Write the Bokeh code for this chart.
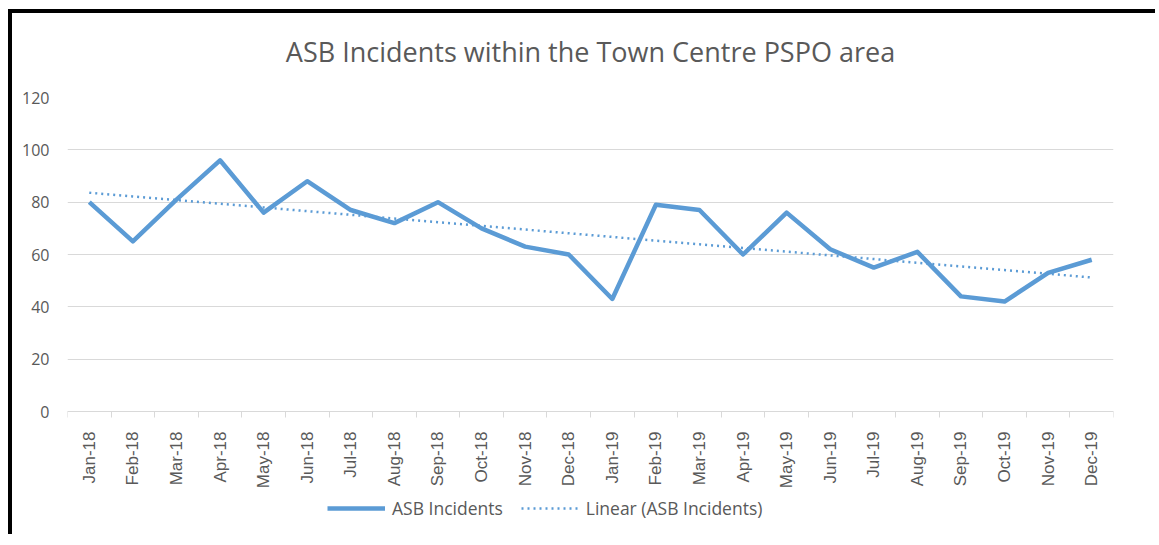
import numpy as np
from math import pi
from bokeh.plotting import figure
from bokeh.models import FixedTicker, Legend, LegendItem, Range1d, CustomJSTickFormatter, Title
from bokeh.embed import file_html
from bokeh.resources import INLINE

months = ["Jan-18", "Feb-18", "Mar-18", "Apr-18", "May-18", "Jun-18", "Jul-18", "Aug-18",
          "Sep-18", "Oct-18", "Nov-18", "Dec-18", "Jan-19", "Feb-19", "Mar-19", "Apr-19",
          "May-19", "Jun-19", "Jul-19", "Aug-19", "Sep-19", "Oct-19", "Nov-19", "Dec-19"]
incidents = [80, 65, 81, 96, 76, 88, 77, 72, 80, 70, 63, 60,
             43, 79, 77, 60, 76, 62, 55, 61, 44, 42, 53, 58]
y_ticks = [0, 20, 40, 60, 80, 100, 120]
title_text = "ASB Incidents within the Town Centre PSPO area"

x_pos = [i + 0.5 for i in range(len(months))]
slope, intercept = np.polyfit(x_pos, incidents, 1)
trend = [slope * x + intercept for x in x_pos]

BLUE = "#5B9BD5"
GREY = "#595959"
GRID = "#D9D9D9"

# layout: plotting area 0..120 spans 314 px; the frame extends below the
# axis to hold the axis labels and the legend (axis drawn at y = 0)
W, H = 1147, 525
TOP, LEFT, RIGHT = 84, 55, 46
frame_h = H - TOP
y_max = y_ticks[-1]
y_min = y_max - y_max * frame_h / 314.0

p = figure(width=W, height=H,
           x_range=Range1d(0, len(months)), y_range=Range1d(y_min, y_max),
           output_backend="svg", toolbar_location=None,
           min_border_left=LEFT, min_border_right=RIGHT, min_border_top=TOP, min_border_bottom=0)
p.styles = {"border-left": "4px solid black", "border-top": "4px solid black",
            "margin-left": "8px", "margin-top": "9px"}
p.outline_line_color = None
p.background_fill_color = "white"
p.border_fill_color = "white"

# spacer between frame and title (pushes the title upward)
p.add_layout(Title(text=" ", text_font_size="2px", standoff=24), "above")

p.title.text = title_text
p.title.align = "center"
p.title.text_font = "Open Sans"
p.title.text_font_size = "27px"
p.title.text_font_style = "normal"
p.title.text_color = GREY
p.title.standoff = 0

r1 = p.line(x_pos, incidents, line_color=BLUE, line_width=4.5, line_join="round")
r2 = p.line(x_pos, trend, line_color=BLUE, line_width=2.5, line_dash="2 4")

p.xgrid.grid_line_color = None
p.ygrid.grid_line_color = GRID
p.ygrid.ticker = FixedTicker(ticks=y_ticks)

xa = p.xaxis[0]
xa.fixed_location = 0
xa.ticker = FixedTicker(ticks=x_pos, minor_ticks=list(range(len(months) + 1)))
xa.formatter = CustomJSTickFormatter(args=dict(labels=months),
                                     code="return labels[Math.floor(tick)];")
xa.axis_line_color = GRID
xa.major_tick_line_color = None
xa.major_tick_out = 0
xa.major_tick_in = 0
xa.minor_tick_line_color = GRID
xa.minor_tick_out = 6
xa.minor_tick_in = 0
xa.major_label_orientation = pi / 2
xa.major_label_standoff = 14
xa.major_label_text_font = "Liberation Sans"
xa.major_label_text_font_size = "17px"
xa.major_label_text_color = GREY

ya = p.yaxis[0]
ya.ticker = FixedTicker(ticks=y_ticks)
ya.axis_line_color = None
ya.major_tick_line_color = None
ya.minor_tick_line_color = None
ya.major_tick_out = 0
ya.major_tick_in = 0
ya.major_label_standoff = 18
ya.major_label_text_font = "Open Sans"
ya.major_label_text_font_size = "16px"
ya.major_label_text_color = GREY

legend = Legend(items=[LegendItem(label="ASB Incidents", renderers=[r1]),
                       LegendItem(label="Linear (ASB Incidents)", renderers=[r2])],
                orientation="horizontal", location=(260, 18),
                glyph_width=58, glyph_height=20, label_standoff=7, spacing=18,
                border_line_color=None, background_fill_alpha=0,
                label_text_font="Open Sans", label_text_font_size="17.5px",
                label_text_color=GREY, padding=4, margin=0)
p.add_layout(legend)

open("out.html", "w").write(file_html(p, INLINE))
